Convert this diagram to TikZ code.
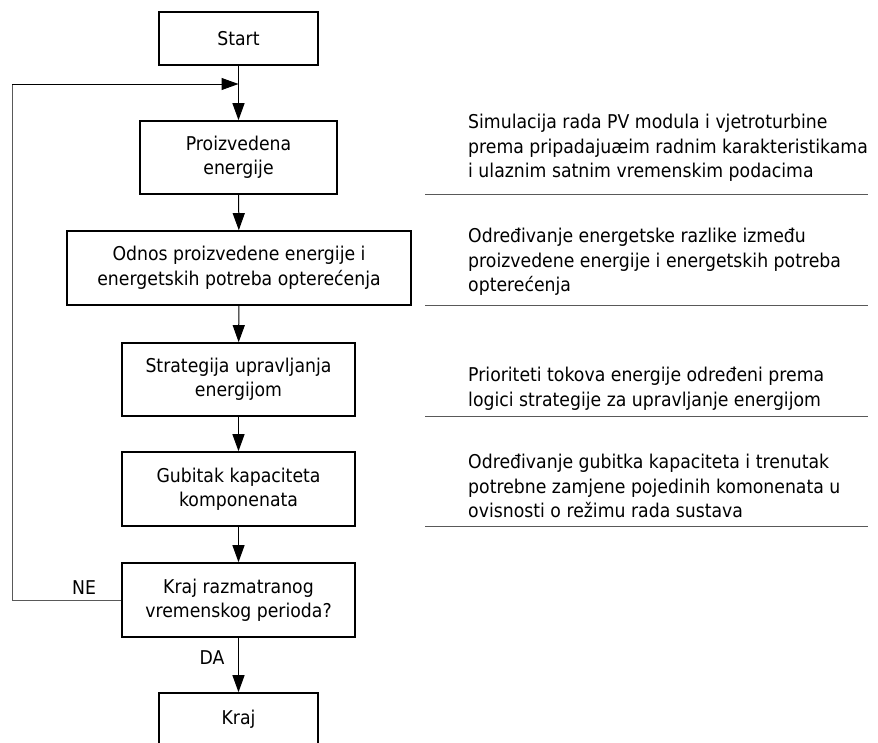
\documentclass[tikz,border=0pt]{standalone}
\usepackage{fontspec}
\setmainfont{DejaVu Sans}[FakeStretch=0.91]
\usetikzlibrary{arrows.meta}
\tikzset{
  txt/.style={font=\fontsize{19pt}{24.5pt}\selectfont, inner sep=0pt},
  flowbox/.style={txt, draw=black, line width=1.6pt, rectangle, align=center},
  note/.style={txt, anchor=west, align=left},
  conn/.style={line width=1pt, black, -{Triangle[length=17pt,width=12pt]}},
  loopline/.style={line width=1pt, black!65},
  sepline/.style={line width=1.3pt, black!65},
}
\begin{document}
\begin{tikzpicture}[x=1pt,y=-1pt]
\useasboundingbox (0,0) rectangle (878,742);
\clip (0,0) rectangle (878,742);
% boxes
\node[flowbox, minimum width=159pt, minimum height=53pt] (start) at (238.5,38.5) {Start};
\node[flowbox, minimum width=197pt, minimum height=73pt] (prod) at (238.5,157.5) {Proizvedena\\energije};
\node[flowbox, minimum width=344pt, minimum height=74pt] (odnos) at (239,268) {Odnos proizvedene energije i\\energetskih potreba opterećenja};
\node[flowbox, minimum width=233pt, minimum height=73pt] (strat) at (238.5,379.5) {Strategija upravljanja\\energijom};
\node[flowbox, minimum width=233pt, minimum height=74pt] (gub) at (238.5,489) {Gubitak kapaciteta\\komponenata};
\node[flowbox, minimum width=233pt, minimum height=74pt] (krajr) at (238.5,600) {Kraj razmatranog\\vremenskog perioda?};
\node[flowbox, minimum width=159pt, minimum height=53pt] (kraj) at (238.5,719.5) {Kraj};
% labels
\node[txt] (ne) at (84,588) {NE};
\node[txt] (da) at (212,658) {DA};
% connectors
\coordinate (merge) at (238.5,84);
\coordinate (loopc) at (12,600);
\coordinate (loopt) at (12,84);
\draw[conn] (start) -- (prod);
\draw[conn] (prod) -- (odnos);
\draw[conn] (odnos) -- (strat);
\draw[conn] (strat) -- (gub);
\draw[conn] (gub) -- (krajr);
\draw[conn] (krajr) -- (kraj);
\draw[loopline] (krajr.west) -- (loopc) -- (loopt);
\draw[conn, black] (loopt) -- (merge);
% notes
\node[note] (n1) at (468,148) {Simulacija rada PV modula i vjetroturbine\\prema pripadajuæim radnim karakteristikama\\i ulaznim satnim vremenskim podacima};
\node[note] (n2) at (468,262) {Određivanje energetske razlike između\\proizvedene energije i energetskih potreba\\opterećenja};
\node[note] (n3) at (468,389) {Prioriteti tokova energije određeni prema\\logici strategije za upravljanje energijom};
\node[note] (n4) at (468,486) {Određivanje gubitka kapaciteta i trenutak\\potrebne zamjene pojedinih komonenata u\\ovisnosti o režimu rada sustava};
% separators
\coordinate (sl) at (425,0);
\coordinate (sr) at (868,0);
\draw[sepline] (prod.south -| sl) -- (prod.south -| sr);
\draw[sepline] (odnos.south -| sl) -- (odnos.south -| sr);
\draw[sepline] (strat.south -| sl) -- (strat.south -| sr);
\draw[sepline] (gub.south -| sl) -- (gub.south -| sr);
\end{tikzpicture}
\end{document}
